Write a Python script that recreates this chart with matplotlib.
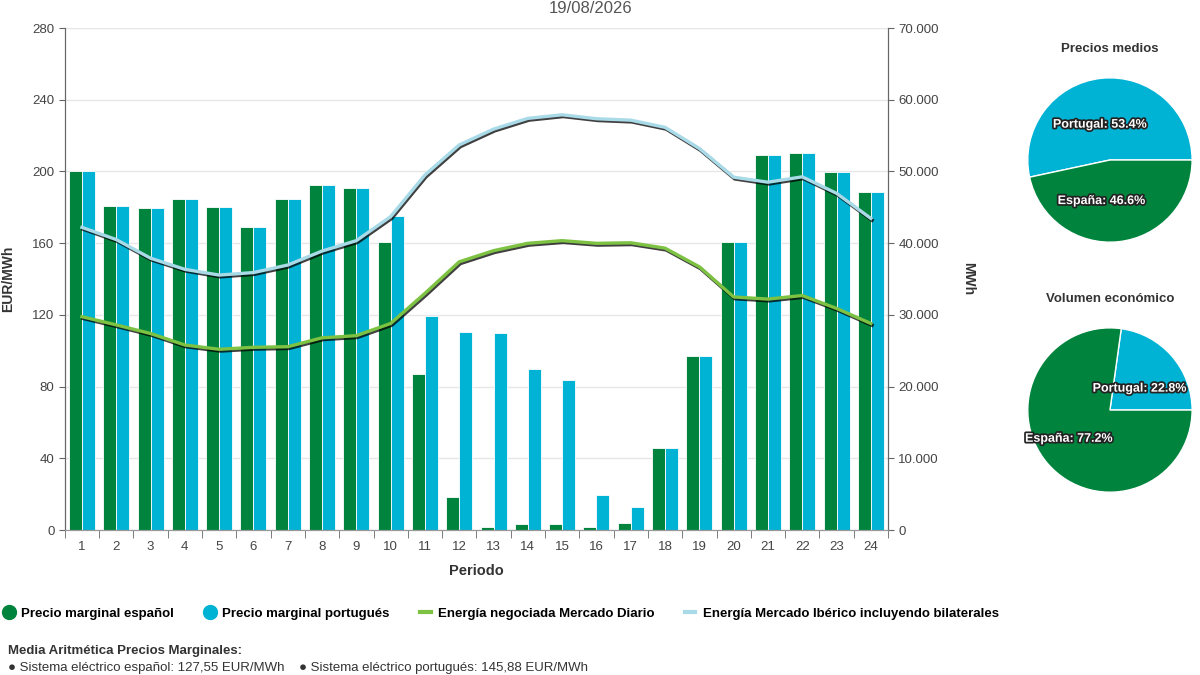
import numpy as np
import matplotlib
matplotlib.use('Agg')
import matplotlib.pyplot as plt
import matplotlib.patheffects as pe
from matplotlib.lines import Line2D

plt.rcParams['font.family'] = ['Liberation Sans', 'DejaVu Sans']

# Datos
periodos = list(range(1, 25))
precio_es = [200.0, 180.5, 179.8, 184.4, 180.0, 168.8, 184.4, 192.4, 190.6, 160.8, 87.0, 18.2,
             1.9, 3.2, 3.2, 1.9, 3.9, 45.5, 96.9, 160.6, 209.2, 210.5, 199.9, 188.7]
precio_pt = [200.0, 180.5, 179.8, 184.4, 180.0, 168.8, 184.4, 192.4, 190.6, 175.1, 119.4, 110.4,
             109.9, 89.6, 83.9, 19.5, 12.6, 45.5, 96.9, 160.6, 209.2, 210.5, 199.9, 188.7]
energia_diario = [29750, 28600, 27400, 25800, 25200, 25475, 25560, 26800, 27100, 28800, 33000, 37400,
                  38950, 39975, 40350, 39975, 40050, 39300, 36700, 32500, 32200, 32700, 30900, 28800]
energia_iberico = [42200, 40500, 37900, 36350, 35550, 35900, 36950, 38900, 40350, 43700, 49500, 53700,
                   55900, 57400, 57900, 57350, 57150, 56150, 53200, 49200, 48500, 49250, 46950, 43450]
media_es = 127.55
media_pt = 145.88
volumen_pt = 22.8
volumen_es = 77.2
fecha = '19/08/2026'

verde = '#00843D'
azul = '#00B2D3'
verde_linea = '#7DC242'
azul_linea = '#A9DAE8'
gris = '#333333'

fig = plt.figure(figsize=(12, 6.75), dpi=100)
ax = fig.add_axes([0.054, 0.2148, 0.686, 0.7437])
ax2 = ax.twinx()

x = np.array(periodos)
ax.bar(x - 0.19, precio_es, width=0.38, color=verde, edgecolor='white', linewidth=0.6, zorder=2)
ax.bar(x + 0.19, precio_pt, width=0.38, color=azul, edgecolor='white', linewidth=0.6, zorder=2)

sombra = [pe.SimpleLineShadow(offset=(0.8, -1.2), shadow_color='black', alpha=0.75, linewidth=2.6), pe.Normal()]
ax2.plot(x, energia_diario, color=verde_linea, lw=2.4, path_effects=sombra, zorder=3)
ax2.plot(x, energia_iberico, color=azul_linea, lw=2.4, path_effects=sombra, zorder=3)

ax.set_xlim(0.5, 24.5)
ax.set_ylim(0, 280)
ax.set_yticks(range(0, 281, 40))
ax2.set_ylim(0, 70000)
ax2.set_yticks(range(0, 70001, 10000))
ax2.set_yticklabels([f'{v:,}'.replace(',', '.') for v in range(0, 70001, 10000)])

ax.set_xticks(x)
ax.set_xticks(np.arange(0.5, 25, 1), minor=True)
ax.tick_params(axis='x', which='major', length=0, labelsize=9.5, colors='#444444', pad=8)
ax.tick_params(axis='x', which='minor', length=6, color='#666666')
ax.tick_params(axis='y', labelsize=9.5, colors='#444444', length=4, color='#666666')
ax2.tick_params(axis='y', labelsize=9.5, colors='#444444', length=4, color='#666666')

ax.grid(axis='y', color='#e6e6e6', lw=1, zorder=0)
ax.set_axisbelow(True)
for a in (ax, ax2):
    a.spines['top'].set_visible(False)
    a.spines['left'].set_color('#666666')
    a.spines['right'].set_color('#666666')
    a.spines['bottom'].set_color('#999999')
ax2.set_zorder(ax.get_zorder() + 1)
ax2.patch.set_visible(False)

ax.set_xlabel('Periodo', fontsize=10.5, fontweight='bold', color=gris, labelpad=8)
ax.set_ylabel('EUR/MWh', fontsize=10, fontweight='bold', color=gris, labelpad=12)
ax2.set_ylabel('MWh', fontsize=10, fontweight='bold', color=gris, rotation=270, labelpad=26)

fig.text(0.492, 0.999, fecha, ha='center', va='top', fontsize=12, color='#555555')

# Leyenda
handles = [
    Line2D([], [], marker='o', ls='', color=verde, markersize=10),
    Line2D([], [], marker='o', ls='', color=azul, markersize=10),
    Line2D([], [], color=verde_linea, lw=3),
    Line2D([], [], color=azul_linea, lw=3),
]
etiquetas = ['Precio marginal español', 'Precio marginal portugués',
             'Energía negociada Mercado Diario', 'Energía Mercado Ibérico incluyendo bilaterales']
fig.legend(handles, etiquetas, loc='center left', bbox_to_anchor=(-0.007, 0.091), ncol=4,
           frameon=False, handlelength=0.8, handletextpad=0.55, columnspacing=2.3,
           prop={'weight': 'bold', 'size': 9.5})

fig.text(0.007, 0.035, 'Media Aritmética Precios Marginales:', fontsize=9.5, fontweight='bold', color=gris, va='center')
fig.text(0.007, 0.01, f'● Sistema eléctrico español: {media_es:.2f} EUR/MWh    ● Sistema eléctrico portugués: {media_pt:.2f} EUR/MWh'.replace('.', ','),
         fontsize=9.5, color=gris, va='center')

# Tartas
contorno = [pe.withStroke(linewidth=2.5, foreground='#222222')]

def tarta(rect, titulo, valores, nombres, posiciones):
    axp = fig.add_axes(rect)
    axp.pie(valores, colors=[azul, verde], startangle=0, counterclock=True,
            wedgeprops={'edgecolor': 'white', 'linewidth': 1})
    axp.set_xlim(-1.01, 1.01)
    axp.set_ylim(-1.01, 1.01)
    axp.set_aspect('equal')
    total = sum(valores)
    for v, n, (px, py) in zip(valores, nombres, posiciones):
        axp.text(px, py, f'{n}: {100 * v / total:.1f}%', ha='center', va='center', color='white',
                 fontsize=9, fontweight='bold', path_effects=contorno)
    axp.set_title(titulo, fontsize=9.5, fontweight='bold', color=gris, pad=18)

tarta([0.8558, 0.64, 0.1383, 0.2459], 'Precios medios', [media_pt, media_es], ['Portugal', 'España'],
      [(-0.12, 0.43), (-0.1, -0.5)])
tarta([0.8558, 0.2696, 0.1383, 0.2459], 'Volumen económico', [volumen_pt, volumen_es], ['Portugal', 'España'],
      [(0.36, 0.26), (-0.5, -0.35)])

fig.savefig('out.png', dpi=100)
